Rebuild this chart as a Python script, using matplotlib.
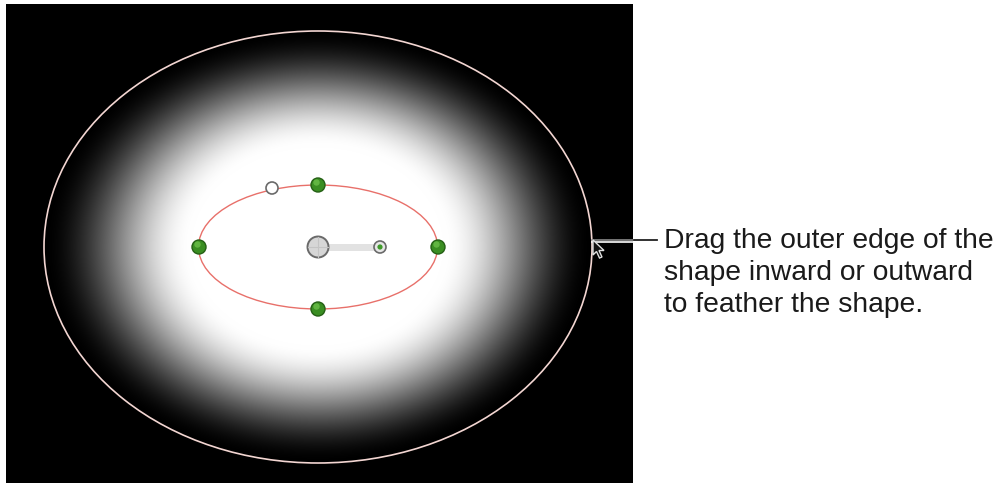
import numpy as np
import matplotlib
matplotlib.use("Agg")
from matplotlib import pyplot as plt
from matplotlib.patches import Ellipse, Circle, Polygon

# geometry of the shape (pixel units)
canvas = [6, 5, 633, 483]            # x0, y0, x1, y1 of black viewer
center = [318, 247]
outer_axes = [274, 216]              # semi-axes of the feather edge
inner_axes = [119.5, 62]             # semi-axes of the shape edge
feather = [0.46, 1.0]                # falloff start / end (normalised radius)
green_handles = [(199, 247), (438, 247), (318, 185), (318, 309)]
rotate_handle = (272, 188)
offset_handle = (380, 247)
callout_text = ["Drag the outer edge of the",
                "shape inward or outward",
                "to feather the shape."]
callout_line = [592, 657, 240]

fig = plt.figure(figsize=(10, 4.9), dpi=100)
ax = fig.add_axes([0, 0, 1, 1])
ax.set_xlim(0, 1000)
ax.set_ylim(490, 0)
ax.axis('off')

# black viewer with radial feather
x0, y0, x1, y1 = canvas
xs = np.arange(x0, x1) + 0.5
ys = np.arange(y0, y1) + 0.5
X, Y = np.meshgrid(xs, ys)
r = np.sqrt(((X - center[0]) / outer_axes[0])**2 + ((Y - center[1]) / outer_axes[1])**2)
t = np.clip((r - feather[0]) / (feather[1] - feather[0]), 0, 1)
val = 1 - (3*t**2 - 2*t**3)
val[r > 1] = 0
img = np.dstack([val, val, val])
ax.imshow(img, extent=[x0, x1, y1, y0], interpolation='bilinear', zorder=1)

# outer feather edge
ax.add_patch(Ellipse(center, 2*outer_axes[0], 2*outer_axes[1], fill=False,
                     ec='#f3d6d2', lw=1.2, zorder=3))
# inner shape edge
ax.add_patch(Ellipse(center, 2*inner_axes[0], 2*inner_axes[1], fill=False,
                     ec='#e8706a', lw=1.0, zorder=3))

# center handle + offset line
ax.plot([center[0], offset_handle[0]], [center[1], center[1]], color='#e2e2e2', lw=5,
        solid_capstyle='butt', zorder=4)
ax.add_patch(Circle(center, 10.5, fc='#d6d6d6', ec='#6a6a6a', lw=1.4, zorder=5))
ax.plot([center[0]-10, center[0]+10], [center[1], center[1]], color='#c4c4c4', lw=0.8, zorder=6)
ax.plot([center[0], center[0]], [center[1]-10, center[1]+10], color='#c4c4c4', lw=0.8, zorder=6)
ax.add_patch(Circle(offset_handle, 6, fc='#e6e6e6', ec='#6a6a6a', lw=1.2, zorder=5))
ax.add_patch(Circle(offset_handle, 2.6, fc='#3f9a2a', ec='none', zorder=6))

# rotation handle
ax.add_patch(Circle(rotate_handle, 6, fc='white', ec='#6a6a6a', lw=1.2, zorder=5))

# green control points
for hx, hy in green_handles:
    ax.add_patch(Circle((hx, hy), 7, fc='#3a8e22', ec='#245f14', lw=1.0, zorder=5))
    ax.add_patch(Circle((hx - 1.5, hy - 2.5), 3.2, fc='#6cbf4a', ec='none', alpha=0.8, zorder=6))

# callout leader
lx0, lx1, ly = callout_line
ax.plot([lx0, lx1], [ly, ly], color='#8a8a8a', lw=1.2, zorder=7)
ax.plot([lx0, lx1 - 8], [ly + 2, ly + 2], color='#ffffff', lw=1.2, zorder=7)
ax.plot([lx0 + 42, lx1], [ly, ly], color='#222222', lw=1.2, zorder=7)

# pointer cursor
cx, cy = 593, 240
arrow = [(cx, cy), (cx, cy + 15), (cx + 3.5, cy + 11.5), (cx + 6.5, cy + 18),
         (cx + 9, cy + 17), (cx + 6, cy + 10.5), (cx + 11, cy + 10.5)]
ax.add_patch(Polygon(arrow, closed=True, fc='#111111', ec='#e0e0e0', lw=1.0, zorder=8))

for i, line in enumerate(callout_text):
    ax.text(664, 241 + 32*i, line, fontsize=20.3, family=['Liberation Sans', 'DejaVu Sans'],
            color='#1a1a1a', va='center', ha='left', zorder=9)

fig.savefig('out.png', dpi=100, facecolor='white')
